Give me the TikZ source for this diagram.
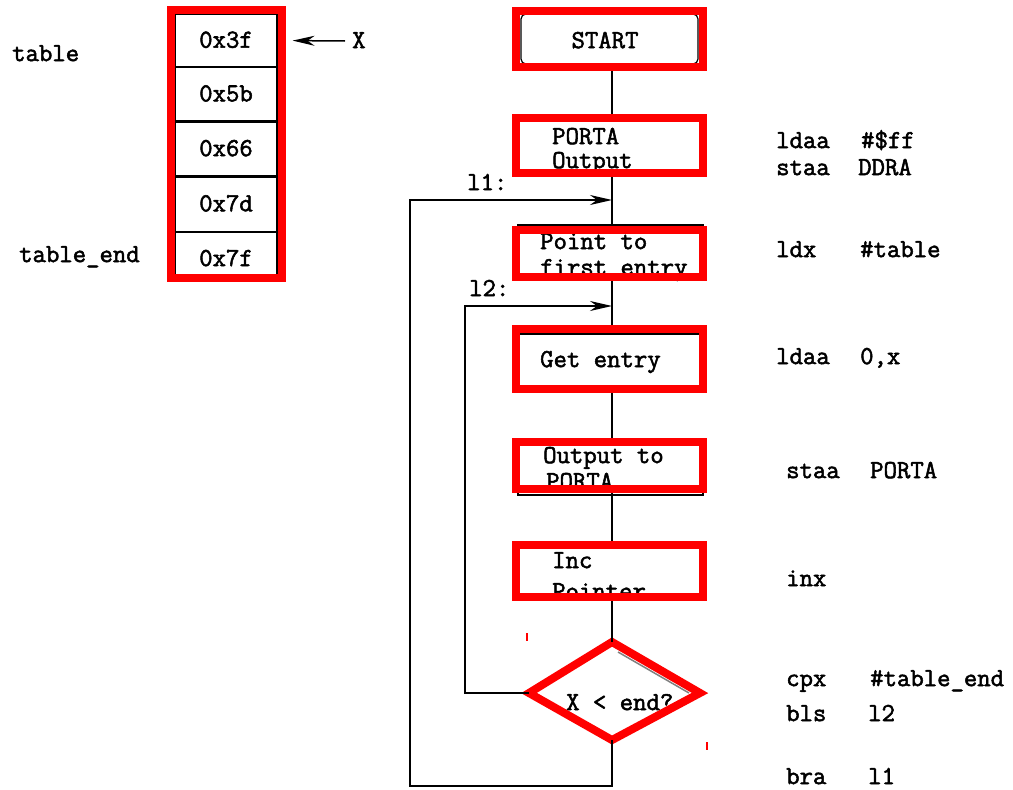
\documentclass[tikz,border=0pt]{standalone}
\usepackage{fontspec}
\newfontfamily\courfont{Latin Modern Mono}[FakeBold=2]
\usetikzlibrary{arrows.meta}
\begin{document}
\begin{tikzpicture}[x=1pt,y=-1pt,
  txt/.style={font=\courfont\fontsize{26}{28}\selectfont, inner sep=0pt, anchor=west, text height=0.62em, text depth=0.2em},
  ctxt/.style={txt, anchor=center},
  hl/.style={draw=red, line width=8pt},
  hlbox/.style={hl, minimum width=187pt, minimum height=#1, inner sep=0pt},
  wire/.style={line width=1.5pt},
  arr/.style={wire, -{Stealth[length=22pt,width=10pt,inset=7pt]}},
  cell/.style={draw, line width=1.2pt, minimum width=102pt, minimum height=#1, inner sep=0pt, anchor=north},
  orig/.style={draw, line width=1.2pt}
]
\useasboundingbox (0,0) rectangle (1013,790);
\fill[white] (0,0) rectangle (1013,790);

% ---------- table ----------
\node[cell=52pt] (c1) at (226,14) {};
\node[cell=53pt] (c2) at (c1.south) {};
\node[cell=54pt] (c3) at (c2.south) {};
\node[cell=54pt] (c4) at (c3.south) {};
\node[cell=47pt] (c5) at (c4.south) {};
\node[ctxt] (v1) at ([yshift=-5pt]c1.center) {0x3f};
\node[ctxt] (v2) at ([yshift=-5pt]c2.center) {0x5b};
\node[ctxt] (v3) at ([yshift=-5pt]c3.center) {0x66};
\node[ctxt] (v4) at ([yshift=-5pt]c4.center) {0x7d};
\node[ctxt] (v5) at ([yshift=-8pt]c5.center) {0x7f};
\draw[hl] (171,10) rectangle (281.5,278);
\node[txt] (tlab) at (12,59) {table};
\node[txt] (telab) at (19,260) {table\_end};
\node[txt] (X) at (352,46) {X};
\draw[arr] ([xshift=-7pt,yshift=5pt]X.west) -- ([xshift=15pt]c1.east);

% ---------- original black boxes (partly visible) ----------
\draw[orig, rounded corners=5pt] (521,14) rectangle (698,64);
\draw[orig] (518,225) rectangle (703,279);
\draw[orig] (516,334) rectangle (703,386);
\draw[orig] (518,440) rectangle (703,495);

% ---------- box texts ----------
\node[ctxt] (tstart) at (605,46) {START};
\node[txt] (tp1) at (552,142) {PORTA};
\node[txt] (tp2) at (552,166) {Output};
\node[txt] (tf1) at (540,247) {Point to};
\node[txt] (tf2) at (540,273) {first entry};
\node[txt] (tg) at (540,365) {Get entry};
\node[txt] (to1) at (543,461) {Output to};
\node[txt] (to2) at (546,487) {PORTA};
\node[txt] (ti1) at (552,566) {Inc};
\node[txt] (ti2) at (552,597) {Pointer};
\node[txt] (td) at (566,708) {X < end?};

% ---------- red highlighted boxes ----------
\node[hlbox=56pt] (start) at (609.5,39) {};
\node[hlbox=55pt] (porta) at (609.5,145.5) {};
\node[hlbox=47pt] (point) at (609.5,253.5) {};
\node[hlbox=60pt] (get) at (609.5,359) {};
\node[hlbox=47pt] (outp) at (609.5,465.5) {};
\node[hlbox=52pt] (inc) at (609.5,571) {};
\coordinate (dt) at (612,642);
\coordinate (dr) at (700,693);
\coordinate (dbm) at (612,740);
\coordinate (dl) at (529,693);
\draw[gray, line width=1.5pt] (618,652) -- (689,693);
\draw[hl, line join=miter] (dt) -- (dr) -- (dbm) -- (dl) -- cycle;
\draw[red, line width=2pt] (527,633) -- (527,641);
\draw[red, line width=2pt] (707,742) -- (707,750);

% ---------- connectors ----------
\coordinate (L) at (612,0);
\draw[wire] (start.south -| L) -- (porta.north -| L);
\draw[wire] (porta.south -| L) -- (point.north -| L);
\draw[wire] (point.south -| L) -- (get.north -| L);
\draw[wire] (get.south -| L) -- (outp.north -| L);
\draw[wire] (outp.south -| L) -- (inc.north -| L);
\draw[wire] (inc.south -| L) -- (dt);
\coordinate (t1) at (612,200);
\coordinate (t2) at (612,306);
\coordinate (b1) at (410,786);
\coordinate (b2) at (465,693);
\draw[arr] (dbm) |- (b1) |- (t1);
\draw[arr] (dl) -- (b2) |- (t2);
\node[txt] (l1) at (467,188) {l1:};
\node[txt] (l2) at (469,294) {l2:};

% ---------- code column ----------
\node[txt] (a1) at (776,146) {ldaa};
\node[txt] (a2) at (861,146) {\#\$ff};
\node[txt] (b1t) at (776,173) {staa};
\node[txt] (b2t) at (858,173) {DDRA};
\node[txt] (c1t) at (776,255) {ldx};
\node[txt] (c2t) at (860,255) {\#table};
\node[txt] (d1t) at (776,362) {ldaa};
\node[txt] (d2t) at (860,362) {0,x};
\node[txt] (e1t) at (786,476) {staa};
\node[txt] (e2t) at (870,476) {PORTA};
\node[txt] (f1t) at (786,584) {inx};
\node[txt] (g1t) at (786,684) {cpx};
\node[txt] (g2t) at (870,684) {\#table\_end};
\node[txt] (h1t) at (786,719) {bls};
\node[txt] (h2t) at (868,719) {l2};
\node[txt] (i1t) at (786,782) {bra};
\node[txt] (i2t) at (868,782) {l1};
\end{tikzpicture}
\end{document}
